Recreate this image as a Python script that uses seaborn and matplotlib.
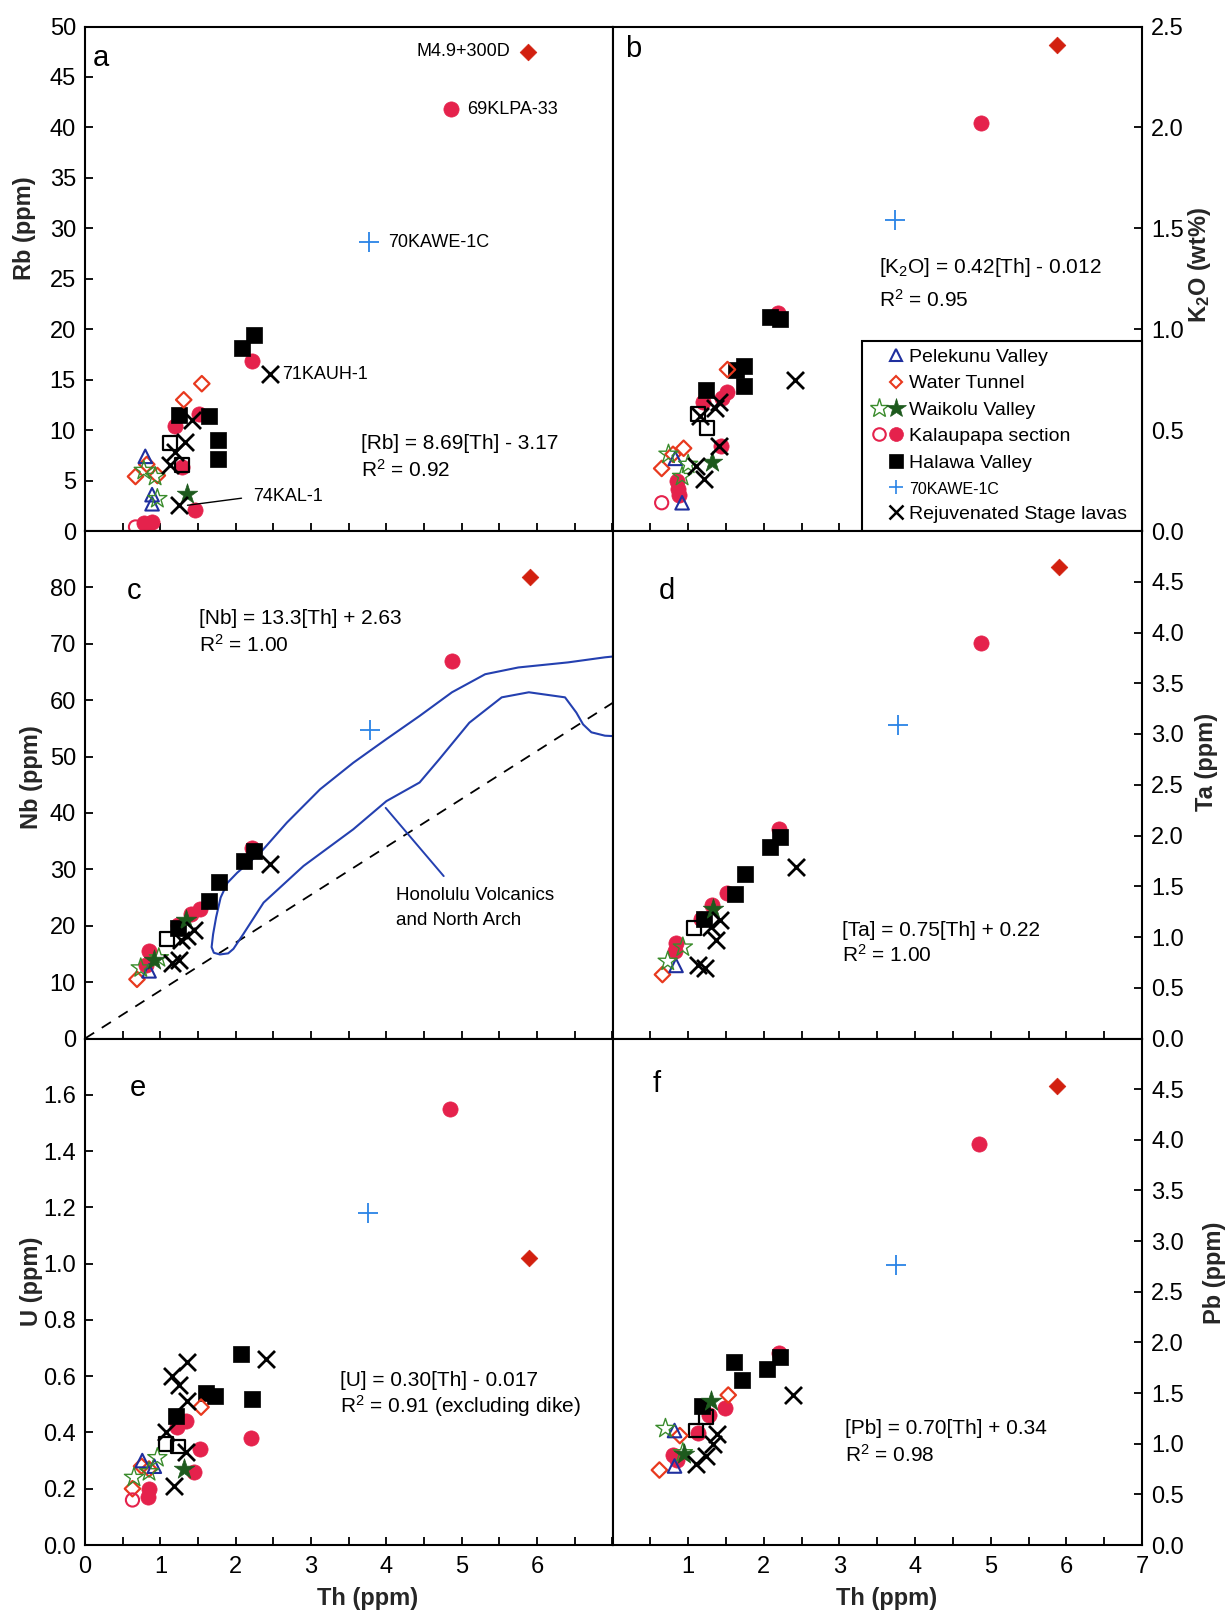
import numpy as np
import pandas as pd
import matplotlib
matplotlib.use("Agg")
import matplotlib.pyplot as plt
import seaborn as sns
from matplotlib.lines import Line2D
from matplotlib.legend_handler import HandlerTuple

# ---------------------------------------------------------------- data
# Each group: element -> (Th ppm, element concentration)
pelekunu = {
    "Rb":  ([0.80, 0.89, 0.89], [7.4, 3.6, 2.7]),
    "K2O": ([0.92, 0.83], [0.14, 0.36]),
    "Nb":  ([0.85], [12.0]),
    "Ta":  ([0.84], [0.72]),
    "U":   ([0.76, 0.92], [0.30, 0.28]),
    "Pb":  ([0.82, 0.82], [1.13, 0.78]),
}
water_tunnel = {
    "Rb":  ([1.55, 1.31, 0.67, 0.82, 0.96], [14.6, 13.0, 5.4, 6.6, 5.5]),
    "K2O": ([1.52, 0.65, 0.94, 0.80], [0.80, 0.31, 0.41, 0.38]),
    "Nb":  ([0.69], [10.5]),
    "Ta":  ([0.66], [0.63]),
    "U":   ([1.54, 0.63, 0.85, 0.75], [0.49, 0.20, 0.27, 0.28]),
    "Pb":  ([1.53, 0.89, 0.62], [1.48, 1.08, 0.74]),
}
water_tunnel_dike = {
    "Rb":  ([5.88], [47.5]),
    "K2O": ([5.88], [2.41]),
    "Nb":  ([5.90], [81.9]),
    "Ta":  ([5.90], [4.65]),
    "U":   ([5.89], [1.02]),
    "Pb":  ([5.88], [4.53]),
}
waikolu_open = {
    "Rb":  ([0.93, 0.96, 0.78], [5.4, 3.2, 6.0]),
    "K2O": ([0.74, 0.92, 1.00], [0.38, 0.27, 0.33]),
    "Nb":  ([0.74, 0.98], [12.5, 14.3]),
    "Ta":  ([0.93, 0.73], [0.90, 0.76]),
    "U":   ([0.96, 0.65, 0.85], [0.31, 0.24, 0.26]),
    "Pb":  ([0.70, 0.93], [1.15, 0.91]),
}
waikolu_filled = {
    "Rb":  ([1.35], [3.7]),
    "K2O": ([1.32], [0.34]),
    "Nb":  ([1.34, 0.92], [21.1, 14.0]),
    "Ta":  ([1.33], [1.28]),
    "U":   ([1.32], [0.27]),
    "Pb":  ([1.30, 0.95], [1.42, 0.90]),
}
kalaupapa_open = {
    "Rb":  ([0.67], [0.4]),
    "K2O": ([0.65], [0.14]),
    "U":   ([0.63], [0.16]),
}
kalaupapa = {
    "Rb":  ([4.86, 2.21, 1.51, 1.20, 1.29, 1.46, 0.89, 0.82, 0.78], [41.8, 16.8, 11.6, 10.4, 6.3, 2.1, 0.9, 0.5, 0.8]),
    "K2O": ([4.87, 2.19, 1.52, 1.45, 1.19, 1.43, 0.87, 0.85, 0.88], [2.02, 1.08, 0.69, 0.66, 0.64, 0.42, 0.21, 0.25, 0.18]),
    "Nb":  ([4.87, 2.22, 1.53, 1.40, 1.23, 0.85, 0.81], [66.9, 33.8, 22.9, 22.0, 20.2, 15.5, 13.1]),
    "Ta":  ([4.87, 2.20, 1.51, 1.31, 1.17, 0.84, 0.82], [3.90, 2.06, 1.43, 1.32, 1.18, 0.94, 0.86]),
    "U":   ([4.84, 1.34, 1.22, 1.52, 1.45, 2.20, 0.85, 0.83], [1.55, 0.44, 0.42, 0.34, 0.26, 0.38, 0.20, 0.17]),
    "Pb":  ([4.84, 2.20, 1.49, 1.27, 1.13, 0.80, 0.85], [3.96, 1.90, 1.35, 1.28, 1.11, 0.89, 0.84]),
}
halawa = {
    "Rb":  ([2.09, 2.24, 1.64, 1.25, 1.77, 1.77], [18.1, 19.4, 11.4, 11.5, 9.0, 7.1]),
    "K2O": ([2.08, 2.21, 1.74, 1.63, 1.74, 1.24], [1.06, 1.05, 0.82, 0.80, 0.72, 0.70]),
    "Nb":  ([2.24, 2.11, 1.78, 1.64, 1.23], [33.3, 31.5, 27.8, 24.4, 19.6]),
    "Ta":  ([2.22, 2.08, 1.75, 1.62, 1.21], [1.99, 1.89, 1.62, 1.42, 1.18]),
    "U":   ([2.07, 2.22, 1.72, 1.60, 1.21], [0.68, 0.52, 0.53, 0.54, 0.46]),
    "Pb":  ([1.60, 1.71, 2.04, 2.22, 1.18], [1.81, 1.63, 1.74, 1.86, 1.37]),
}
halawa_open = {
    "Rb":  ([1.13, 1.29], [8.7, 6.5]),
    "K2O": ([1.13, 1.25], [0.58, 0.51]),
    "Nb":  ([1.09], [17.7]),
    "Ta":  ([1.08], [1.09]),
    "U":   ([1.07, 1.23], [0.36, 0.35]),
    "Pb":  ([1.10, 1.24], [1.13, 1.26]),
}
kawe = {
    "Rb":  ([3.77], [28.6]),
    "K2O": ([3.73], [1.54]),
    "Nb":  ([3.78], [54.7]),
    "Ta":  ([3.78], [3.09]),
    "U":   ([3.75], [1.18]),
    "Pb":  ([3.75], [2.76]),
}
rejuvenated = {
    "Rb":  ([2.45, 1.42, 1.33, 1.20, 1.13, 1.25], [15.6, 11.0, 8.8, 7.8, 6.5, 2.6]),
    "K2O": ([2.41, 1.41, 1.36, 1.16, 1.41, 1.10, 1.21], [0.75, 0.64, 0.61, 0.57, 0.42, 0.32, 0.26]),
    "Nb":  ([2.45, 1.45, 1.36, 1.28, 1.16, 1.25], [30.9, 19.3, 18.2, 17.5, 13.4, 14.0]),
    "Ta":  ([2.43, 1.42, 1.37, 1.30, 1.13, 1.22], [1.69, 1.17, 0.97, 1.10, 0.72, 0.69]),
    "U":   ([2.40, 1.36, 1.15, 1.25, 1.36, 1.08, 1.34, 1.18], [0.66, 0.65, 0.60, 0.57, 0.51, 0.40, 0.33, 0.21]),
    "Pb":  ([2.39, 1.38, 1.33, 1.24, 1.11], [1.48, 1.10, 1.00, 0.88, 0.80]),
}

# Honolulu Volcanics and North Arch field (Th, Nb)
field_th = [7.05, 6.90, 6.41, 5.75, 5.31, 4.87, 4.44, 4.00, 3.56, 3.12, 2.68, 2.33, 2.02,
            1.89, 1.80, 1.74, 1.70, 1.68, 1.71, 1.79, 1.90, 1.97, 2.10, 2.37, 2.90, 3.56,
            4.00, 4.44, 4.70, 5.10, 5.53, 5.89, 6.37, 6.52, 6.61, 6.72, 6.90, 7.05]
field_nb = [67.8, 67.6, 66.7, 65.8, 64.6, 61.4, 57.2, 53.1, 48.9, 44.2, 38.3, 33.0, 29.4,
            27.6, 25.0, 21.5, 18.5, 16.2, 15.2, 14.9, 15.1, 15.9, 18.5, 24.1, 30.6, 37.1,
            42.1, 45.4, 49.5, 56.0, 60.5, 61.4, 60.5, 57.8, 55.7, 54.3, 53.7, 53.6]
ref_th = [0.0, 7.0]
ref_nb = [0.0, 59.5]

# ---------------------------------------------------------------- styles
PEL_BLUE = "#1f2f9e"
WT_RED = "#e8391e"
DIKE_RED = "#d2200f"
WAI_LIGHT = "#3a8c2c"
WAI_DARK = "#1d5a1d"
KAL_RED = "#e5224c"
KAWE_BLUE = "#2a84e6"
FIELD_BLUE = "#2440b0"

groups = {
    "Kalaupapa section": kalaupapa,
    "Halawa Valley": halawa,
    "Halawa open": halawa_open,
    "Water Tunnel": water_tunnel,
    "Pelekunu Valley": pelekunu,
    "Waikolu open": waikolu_open,
    "Waikolu Valley": waikolu_filled,
    "Kalaupapa open": kalaupapa_open,
    "Rejuvenated Stage lavas": rejuvenated,
    "70KAWE-1C": kawe,
    "Water Tunnel dike": water_tunnel_dike,
}
styles = {
    "Kalaupapa section": dict(marker="o", s=120, color=KAL_RED, edgecolor=KAL_RED, linewidth=0.5),
    "Halawa Valley": dict(marker="s", s=118, color="black", edgecolor="black", linewidth=0.5),
    "Halawa open": dict(marker="s", s=100, facecolor="none", edgecolor="black", linewidth=1.6),
    "Water Tunnel": dict(marker="D", s=62, facecolor="none", edgecolor=WT_RED, linewidth=1.6),
    "Pelekunu Valley": dict(marker="^", s=95, facecolor="none", edgecolor=PEL_BLUE, linewidth=1.5),
    "Waikolu open": dict(marker="*", s=210, facecolor="none", edgecolor=WAI_LIGHT, linewidth=1.0),
    "Waikolu Valley": dict(marker="*", s=240, color=WAI_DARK, edgecolor=WAI_DARK, linewidth=0.5),
    "Kalaupapa open": dict(marker="o", s=90, facecolor="none", edgecolor=KAL_RED, linewidth=1.5),
    "Rejuvenated Stage lavas": dict(marker="x", s=150, color="black", linewidth=2.0),
    "70KAWE-1C": dict(marker="+", s=190, color=KAWE_BLUE, linewidth=1.3),
    "Water Tunnel dike": dict(marker="D", s=72, color=DIKE_RED, edgecolor=DIKE_RED, linewidth=0.5),
}

rows = []
for gname, gdata in groups.items():
    for el, (th, val) in gdata.items():
        for t, v in zip(th, val):
            rows.append((gname, el, t, v))
df = pd.DataFrame(rows, columns=["group", "element", "Th", "value"])

# ---------------------------------------------------------------- figure
sns.set_style("white")
plt.rcParams.update({
    "font.family": ["Liberation Sans", "DejaVu Sans"],
    "mathtext.fontset": "custom",
    "mathtext.rm": "Liberation Sans",
    "mathtext.it": "Liberation Sans:italic",
    "mathtext.bf": "Liberation Sans:bold",
    "mathtext.default": "regular",
    "axes.edgecolor": "black",
    "axes.linewidth": 1.5,
    "text.color": "black",
    "xtick.color": "black",
    "ytick.color": "black",
    "xtick.bottom": True,
    "xtick.top": False,
    "ytick.left": True,
    "xtick.direction": "in",
    "ytick.direction": "in",
    "xtick.major.size": 5.5,
    "ytick.major.size": 5.5,
    "xtick.major.width": 1.3,
    "ytick.major.width": 1.3,
})

W, H = 1231, 1614
fig = plt.figure(figsize=(W / 100, H / 100), dpi=100)
fig.patch.set_facecolor("white")

col_x = [(85, 612.5), (612.5, 1142)]
row_y = [(26.5, 531), (531, 1038.5), (1038.5, 1545)]


def make_ax(r, c):
    x0, x1 = col_x[c]
    y0, y1 = row_y[r]
    return fig.add_axes([x0 / W, 1 - y1 / H, (x1 - x0) / W, (y1 - y0) / H])


panels = [
    # element, row, col, ylim, yticks, fmt, ylabel, letter, letter pos, label pos
    ("Rb", 0, 0, (0, 50), np.arange(0, 51, 5), "{:.0f}", "Rb (ppm)", "a", (0.015, 0.938), (-0.115, 0.60)),
    ("K2O", 0, 1, (0, 2.5), np.arange(0, 2.51, 0.5), "{:.1f}", "K$_2$O (wt%)", "b", (0.024, 0.955), (1.108, 0.527)),
    ("Nb", 1, 0, (0, 90), np.arange(0, 81, 10), "{:.0f}", "Nb (ppm)", "c", (0.08, 0.882), (-0.102, 0.515)),
    ("Ta", 1, 1, (0, 5), np.arange(0, 4.51, 0.5), "{:.1f}", "Ta (ppm)", "d", (0.088, 0.882), (1.121, 0.545)),
    ("U", 2, 0, (0, 1.8), np.arange(0, 1.61, 0.2), "{:.1f}", "U (ppm)", "e", (0.085, 0.902), (-0.102, 0.521)),
    ("Pb", 2, 1, (0, 5), np.arange(0, 4.51, 0.5), "{:.1f}", "Pb (ppm)", "f", (0.075, 0.91), (1.136, 0.537)),
]

axes = {}
for el, r, c, ylim, yt, fmt, ylab, letter, lpos, labpos in panels:
    ax = make_ax(r, c)
    axes[el] = ax
    ax.set_facecolor("white")

    if el == "Nb":
        sns.lineplot(x=ref_th, y=ref_nb, ax=ax, color="black", linewidth=1.3,
                     linestyle=(0, (6, 5)), sort=False, estimator=None)
        sns.lineplot(x=field_th, y=field_nb, ax=ax, color=FIELD_BLUE, linewidth=1.5,
                     sort=False, estimator=None)

    sub = df[df["element"] == el]
    for gname in groups:
        g = sub[sub["group"] == gname]
        if g.empty:
            continue
        sns.scatterplot(data=g, x="Th", y="value", ax=ax, legend=False, zorder=3,
                        **styles[gname])

    ax.set_xlim(0, 7)
    ax.set_ylim(*ylim)

    # x ticks every 0.5, labels only on the bottom row
    xt = np.arange(0, 7.01, 0.5)
    if r == 2:
        shown = range(0, 7) if c == 0 else range(1, 8)
        xl = [str(int(v)) if (v.is_integer() and int(v) in shown) else "" for v in xt]
    else:
        xl = [""] * len(xt)
    ax.set_xticks(xt, xl)
    ax.set_yticks(yt, [fmt.format(v) for v in yt])
    ax.tick_params(axis="x", which="major", direction="in", length=5.5, width=1.3,
                   labelsize=17, pad=8, bottom=True, top=False, color="black")
    ax.tick_params(axis="y", which="major", direction="in", length=5.5, width=1.3,
                   labelsize=17, pad=6.5, color="black")
    if c == 1:
        ax.yaxis.tick_right()
        ax.yaxis.set_label_position("right")
        ax.tick_params(axis="y", left=False, right=True, labelleft=False, labelright=True)
    else:
        ax.tick_params(axis="y", left=True, right=False)

    for sp in ax.spines.values():
        sp.set_visible(True)
        sp.set_linewidth(1.5)
        sp.set_color("black")

    ax.set_ylabel(ylab, fontsize=17, fontweight="bold", rotation=90)
    ax.yaxis.label.set_verticalalignment("center")
    ax.yaxis.set_label_coords(*labpos)
    if r == 2:
        ax.set_xlabel("Th (ppm)", fontsize=17, fontweight="bold")
        ax.xaxis.set_label_coords(0.535 if c == 0 else 0.518, -0.105)
        ax.xaxis.label.set_verticalalignment("center")
    else:
        ax.set_xlabel("")

    ax.text(lpos[0], lpos[1], letter, transform=ax.transAxes, fontsize=21,
            ha="left", va="center")

# ---------------------------------------------------------------- annotations
EQ = 15
LBL = 13
ax = axes["Rb"]
ax.text(3.66, 8.7, "[Rb] = 8.69[Th] - 3.17", fontsize=EQ, va="center")
ax.text(3.66, 6.1, "R$^2$ = 0.92", fontsize=EQ, va="center")
ax.text(5.64, 47.5, "M4.9+300D", fontsize=LBL, ha="right", va="center")
ax.text(5.07, 41.8, "69KLPA-33", fontsize=LBL, ha="left", va="center")
ax.text(4.02, 28.6, "70KAWE-1C", fontsize=LBL, ha="left", va="center")
ax.text(2.62, 15.5, "71KAUH-1", fontsize=LBL, ha="left", va="center")
ax.annotate("74KAL-1", xy=(1.36, 2.55), xytext=(2.23, 3.4), fontsize=LBL, va="center",
            ha="left",
            arrowprops=dict(arrowstyle="-", color="black", lw=1.0, shrinkA=6, shrinkB=0,
                            relpos=(0, 0.5)))

ax = axes["K2O"]
ax.text(3.52, 1.305, "[K$_2$O] = 0.42[Th] - 0.012", fontsize=EQ, va="center")
ax.text(3.52, 1.147, "R$^2$ = 0.95", fontsize=EQ, va="center")

ax = axes["Nb"]
ax.text(1.51, 74.4, "[Nb] = 13.3[Th] + 2.63", fontsize=EQ, va="center")
ax.text(1.51, 69.8, "R$^2$ = 1.00", fontsize=EQ, va="center")
sns.lineplot(x=[3.99, 4.76], y=[40.9, 28.8], ax=ax, color=FIELD_BLUE, linewidth=1.4,
             sort=False, estimator=None)
ax.text(4.13, 25.3, "Honolulu Volcanics", fontsize=13.5, va="center")
ax.text(4.13, 21.0, "and North Arch", fontsize=13.5, va="center")

ax = axes["Ta"]
ax.text(3.04, 1.06, "[Ta] = 0.75[Th] + 0.22", fontsize=EQ, va="center")
ax.text(3.04, 0.82, "R$^2$ = 1.00", fontsize=EQ, va="center")

ax = axes["U"]
ax.text(3.38, 0.585, "[U] = 0.30[Th] - 0.017", fontsize=EQ, va="center")
ax.text(3.38, 0.493, "R$^2$ = 0.91 (excluding dike)", fontsize=EQ, va="center")

ax = axes["Pb"]
ax.text(3.08, 1.15, "[Pb] = 0.70[Th] + 0.34", fontsize=EQ, va="center")
ax.text(3.08, 0.89, "R$^2$ = 0.98", fontsize=EQ, va="center")

# ---------------------------------------------------------------- legend
blank = Line2D([], [], linestyle="none", marker=None)


def mk(marker, ms, fc, ec, mew=1.5):
    return Line2D([], [], linestyle="none", marker=marker, markersize=ms,
                  markerfacecolor=fc, markeredgecolor=ec, markeredgewidth=mew)


handles = [
    (blank, mk("^", 9, "none", PEL_BLUE)),
    (blank, mk("D", 6.5, "none", WT_RED)),
    (mk("*", 14, "none", WAI_LIGHT, 1.0), mk("*", 15, WAI_DARK, WAI_DARK, 0.5)),
    (mk("o", 9, "none", KAL_RED), mk("o", 10, KAL_RED, KAL_RED, 0.5)),
    (blank, mk("s", 9.5, "black", "black", 0.5)),
    (blank, mk("+", 10, KAWE_BLUE, KAWE_BLUE, 1.2)),
    (blank, mk("x", 9.5, "black", "black", 1.8)),
]
labels = ["Pelekunu Valley", "Water Tunnel", "Waikolu Valley", "Kalaupapa section",
          "Halawa Valley", "70KAWE-1C", "Rejuvenated Stage lavas"]
lx0 = (862 - 612.5) / 529.5
leg = axes["K2O"].legend(
    handles, labels, loc="lower left", bbox_to_anchor=(lx0, 0, 1 - lx0, 1),
    mode="expand", borderaxespad=0, frameon=True, fancybox=False, framealpha=1,
    edgecolor="black", fontsize=14, handlelength=1.8, handletextpad=0.2,
    borderpad=0.4, labelspacing=0.45,
    handler_map={tuple: HandlerTuple(ndivide=None, pad=0.0)})
leg.get_frame().set_linewidth(1.5)
leg.get_texts()[5].set_fontsize(11.5)

fig.savefig("out.png", dpi=100, facecolor="white")
